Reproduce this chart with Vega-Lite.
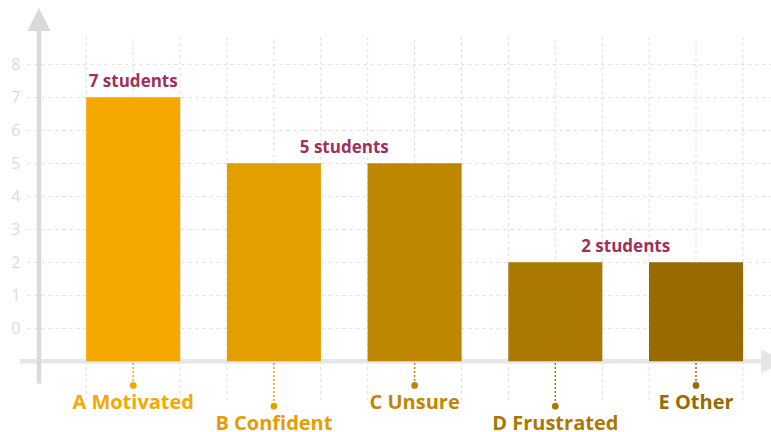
{
  "$schema": "https://vega.github.io/schema/vega-lite/v6.json",
  "width": 744,
  "height": 432,
  "autosize": {"type": "none"},
  "padding": {"left": 27, "top": 0, "right": 0, "bottom": 0},
  "background": "white",
  "title": {
    "text": "In a speaking activity in class?",
    "anchor": "middle",
    "frame": "group",
    "font": "Open Sans",
    "fontSize": 22,
    "fontWeight": "bold",
    "color": "#fbb540",
    "baseline": "alphabetic",
    "offset": 0,
    "dy": 15,
    "dx": -4
  },
  "config": {"view": {"stroke": null}, "font": "Open Sans", "scale": {"continuousPadding": 0}},
  "data": {
    "values": [
      {"option": "A Motivated", "idx": 1, "students": 7},
      {"option": "B Confident", "idx": 2, "students": 5},
      {"option": "C Unsure", "idx": 3, "students": 5},
      {"option": "D Frustrated", "idx": 4, "students": 2},
      {"option": "E Other", "idx": 5, "students": 2}
    ]
  },
  "transform": [
    {"calculate": "datum.idx - 1/3", "as": "left"},
    {"calculate": "datum.idx + 1/3", "as": "right"}
  ],
  "layer": [
    {
      "mark": {"type": "rule", "stroke": "#dcdcdc", "strokeDash": [3, 3], "strokeWidth": 1},
      "encoding": {
        "x": {"field": "left", "type": "quantitative", "scale": {"domain": [0.2452, 5.533], "nice": false, "zero": false, "padding": 0}, "axis": null},
        "y": {"datum": -2.18, "type": "quantitative", "scale": {"domain": [-3.142, 9.948], "nice": false, "zero": false}},
        "y2": {"datum": 8.83}
      }
    },
    {
      "mark": {"type": "rule", "stroke": "#dcdcdc", "strokeDash": [3, 3], "strokeWidth": 1},
      "encoding": {
        "x": {"field": "right", "type": "quantitative", "scale": {"domain": [0.2452, 5.533], "nice": false, "zero": false, "padding": 0}, "axis": null},
        "y": {"datum": -2.18, "type": "quantitative", "scale": {"domain": [-3.142, 9.948], "nice": false, "zero": false}},
        "y2": {"datum": 8.83}
      }
    },
    {
      "mark": {"type": "rule", "stroke": "#dcdcdc", "strokeDash": [3, 3], "strokeWidth": 1},
      "encoding": {
        "x": {"field": "idx", "type": "quantitative", "scale": {"domain": [0.2452, 5.533], "nice": false, "zero": false, "padding": 0}, "axis": null},
        "y": {"datum": -1, "type": "quantitative", "scale": {"domain": [-3.142, 9.948], "nice": false, "zero": false}},
        "y2": {"datum": 8.83}
      }
    },
    {
      "data": {"values": [{}]},
      "mark": {"type": "rule", "stroke": "#e6e6e6", "strokeWidth": 4.5},
      "encoding": {
        "x": {"datum": 0.1955, "type": "quantitative", "scale": {"domain": [0.2452, 5.533], "nice": false, "zero": false, "padding": 0}, "axis": null},
        "x2": {"datum": 5.47},
        "y": {"datum": -1, "type": "quantitative", "scale": {"domain": [-3.142, 9.948], "nice": false, "zero": false}}
      }
    },
    {
      "data": {"values": [{}]},
      "mark": {"type": "point", "shape": "M-1,-1L1,0L-1,1Z", "filled": true, "fill": "#e6e6e6", "opacity": 1, "size": 576, "strokeWidth": 0},
      "encoding": {
        "x": {"datum": 5.547, "type": "quantitative", "scale": {"domain": [0.2452, 5.533], "nice": false, "zero": false, "padding": 0}, "axis": null},
        "y": {"datum": -1, "type": "quantitative", "scale": {"domain": [-3.142, 9.948], "nice": false, "zero": false}}
      }
    },
    {
      "data": {"values": [{}]},
      "mark": {"type": "rule", "stroke": "#dadada", "strokeWidth": 4.5},
      "encoding": {
        "x": {"datum": 0.3305, "type": "quantitative", "scale": {"domain": [0.2452, 5.533], "nice": false, "zero": false, "padding": 0}, "axis": null},
        "y": {"datum": -1.67, "type": "quantitative", "scale": {"domain": [-3.142, 9.948], "nice": false, "zero": false}},
        "y2": {"datum": 9.05}
      }
    },
    {
      "data": {"values": [{}]},
      "mark": {"type": "point", "shape": "M0,-1L1,1L-1,1Z", "filled": true, "fill": "#dadada", "opacity": 1, "size": 529, "strokeWidth": 0},
      "encoding": {
        "x": {"datum": 0.3305, "type": "quantitative", "scale": {"domain": [0.2452, 5.533], "nice": false, "zero": false, "padding": 0}, "axis": null},
        "y": {"datum": 9.36, "type": "quantitative", "scale": {"domain": [-3.142, 9.948], "nice": false, "zero": false}}
      }
    },
    {
      "mark": {"type": "bar", "width": 94},
      "encoding": {
        "x": {"field": "idx", "type": "quantitative", "scale": {"domain": [0.2452, 5.533], "nice": false, "zero": false, "padding": 0}, "axis": null},
        "y": {
          "field": "students", "type": "quantitative",
          "scale": {"domain": [-3.142, 9.948], "nice": false, "zero": false},
          "axis": {
            "values": [0, 1, 2, 3, 4, 5, 6, 7, 8],
            "orient": "left",
            "domain": false,
            "ticks": false,
            "labelPadding": 7,
            "labelColor": "#dcdcdc",
            "labelFontSize": 16,
            "labelFont": "Open Sans",
            "labelBaseline": "middle",
            "grid": true,
            "gridDash": [3, 4],
            "gridColor": "#dedede",
            "gridWidth": 1,
            "title": null
          }
        },
        "y2": {"datum": -1},
        "color": {
          "field": "option", "type": "nominal",
          "scale": {
            "domain": ["A Motivated", "B Confident", "C Unsure", "D Frustrated", "E Other"],
            "range": ["#f5a800", "#e39e00", "#bf8700", "#ab7800", "#996a00"]
          },
          "legend": null
        }
      }
    },
    {
      "transform": [{"filter": "datum.idx % 2 == 1"}],
      "mark": {"type": "rule", "strokeDash": [2, 2], "strokeWidth": 1.5},
      "encoding": {
        "x": {"field": "idx", "type": "quantitative", "scale": {"domain": [0.2452, 5.533], "nice": false, "zero": false, "padding": 0}, "axis": null},
        "y": {"datum": -1.05, "type": "quantitative", "scale": {"domain": [-3.142, 9.948], "nice": false, "zero": false}},
        "y2": {"datum": -1.73},
        "color": {"field": "option", "type": "nominal", "legend": null}
      }
    },
    {
      "transform": [{"filter": "datum.idx % 2 == 0"}],
      "mark": {"type": "rule", "strokeDash": [2, 2], "strokeWidth": 1.5},
      "encoding": {
        "x": {"field": "idx", "type": "quantitative", "scale": {"domain": [0.2452, 5.533], "nice": false, "zero": false, "padding": 0}, "axis": null},
        "y": {"datum": -1.05, "type": "quantitative", "scale": {"domain": [-3.142, 9.948], "nice": false, "zero": false}},
        "y2": {"datum": -2.36},
        "color": {"field": "option", "type": "nominal", "legend": null}
      }
    },
    {
      "transform": [{"filter": "datum.idx % 2 == 1"}],
      "mark": {"type": "point", "filled": true, "opacity": 1, "size": 45},
      "encoding": {
        "x": {"field": "idx", "type": "quantitative", "scale": {"domain": [0.2452, 5.533], "nice": false, "zero": false, "padding": 0}, "axis": null},
        "y": {"datum": -1.73, "type": "quantitative", "scale": {"domain": [-3.142, 9.948], "nice": false, "zero": false}},
        "color": {"field": "option", "type": "nominal", "legend": null}
      }
    },
    {
      "transform": [{"filter": "datum.idx % 2 == 0"}],
      "mark": {"type": "point", "filled": true, "opacity": 1, "size": 45},
      "encoding": {
        "x": {"field": "idx", "type": "quantitative", "scale": {"domain": [0.2452, 5.533], "nice": false, "zero": false, "padding": 0}, "axis": null},
        "y": {"datum": -2.36, "type": "quantitative", "scale": {"domain": [-3.142, 9.948], "nice": false, "zero": false}},
        "color": {"field": "option", "type": "nominal", "legend": null}
      }
    },
    {
      "transform": [{"filter": "datum.idx % 2 == 1"}],
      "mark": {"type": "text", "font": "Open Sans", "fontSize": 20, "fontWeight": "bold", "baseline": "middle", "align": "center"},
      "encoding": {
        "x": {"field": "idx", "type": "quantitative", "scale": {"domain": [0.2452, 5.533], "nice": false, "zero": false, "padding": 0}, "axis": null},
        "y": {"datum": -2.264, "type": "quantitative", "scale": {"domain": [-3.142, 9.948], "nice": false, "zero": false}},
        "text": {"field": "option"},
        "color": {"field": "option", "type": "nominal", "legend": null}
      }
    },
    {
      "transform": [{"filter": "datum.idx % 2 == 0"}],
      "mark": {"type": "text", "font": "Open Sans", "fontSize": 20, "fontWeight": "bold", "baseline": "middle", "align": "center"},
      "encoding": {
        "x": {"field": "idx", "type": "quantitative", "scale": {"domain": [0.2452, 5.533], "nice": false, "zero": false, "padding": 0}, "axis": null},
        "y": {"datum": -2.9, "type": "quantitative", "scale": {"domain": [-3.142, 9.948], "nice": false, "zero": false}},
        "text": {"field": "option"},
        "color": {"field": "option", "type": "nominal", "legend": null}
      }
    },
    {
      "transform": [
        {"aggregate": [{"op": "mean", "field": "idx", "as": "mid"}], "groupby": ["students"]},
        {"calculate": "datum.students + ' students'", "as": "label"}
      ],
      "mark": {"type": "text", "font": "Open Sans", "fontSize": 17, "fontWeight": "bold", "baseline": "alphabetic", "align": "center", "dy": -10.5, "color": "#a0305e"},
      "encoding": {
        "x": {"field": "mid", "type": "quantitative", "scale": {"domain": [0.2452, 5.533], "nice": false, "zero": false, "padding": 0}, "axis": null},
        "y": {"field": "students", "type": "quantitative", "scale": {"domain": [-3.142, 9.948], "nice": false, "zero": false}},
        "text": {"field": "label"}
      }
    }
  ]
}
